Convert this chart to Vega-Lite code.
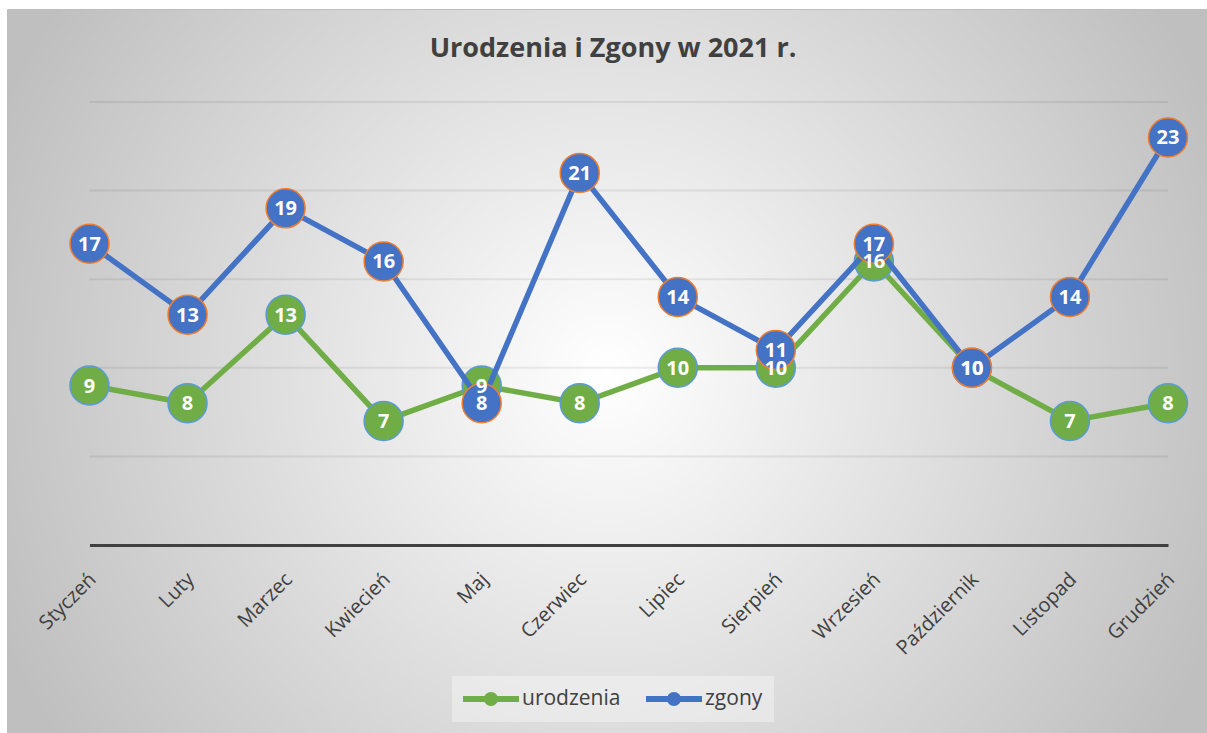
{
  "$schema": "https://vega.github.io/schema/vega-lite/v6.json",
  "width": 1200,
  "height": 724,
  "autosize": {"type": "none"},
  "padding": {"left": 7, "top": 9, "right": 0, "bottom": 0},
  "background": "white",
  "title": {"text": "Urodzenia i Zgony w 2021 r.", "font": "Open Sans", "fontSize": 27, "fontWeight": "bold", "color": "#404040", "anchor": "middle", "offset": -54, "dx": 6},
  "config": {
    "view": {
      "fill": {"gradient": "radial", "x1": 0.5, "y1": 0.5, "r1": 0, "x2": 0.5, "y2": 0.5, "r2": 0.55,
        "stops": [{"offset": 0, "color": "#ffffff"}, {"offset": 1, "color": "#bfbfbf"}]},
      "stroke": "#bdbdbd",
      "strokeWidth": 1
    },
    "legend": {
      "orient": "none", "legendX": 445, "legendY": 667, "direction": "horizontal",
      "fillColor": "rgba(255,255,255,0.35)", "padding": 11, "clipHeight": 24,
      "labelFont": "Open Sans", "labelFontSize": 21, "labelColor": "#404040",
      "symbolType": "M-1,-0.107H1V0.107H-1Z M-0.25,0A0.25,0.25 0 1 1 0.25,0A0.25,0.25 0 1 1 -0.25,0Z",
      "symbolSize": 3136, "symbolStrokeWidth": 0, "symbolOpacity": 1,
      "labelOffset": 3, "columnPadding": 25
    }
  },
  "datasets": {
    "main": [
      {"month": "Styczeń", "series": "urodzenia", "value": 9},
      {"month": "Luty", "series": "urodzenia", "value": 8},
      {"month": "Marzec", "series": "urodzenia", "value": 13},
      {"month": "Kwiecień", "series": "urodzenia", "value": 7},
      {"month": "Maj", "series": "urodzenia", "value": 9},
      {"month": "Czerwiec", "series": "urodzenia", "value": 8},
      {"month": "Lipiec", "series": "urodzenia", "value": 10},
      {"month": "Sierpień", "series": "urodzenia", "value": 10},
      {"month": "Wrzesień", "series": "urodzenia", "value": 16},
      {"month": "Październik", "series": "urodzenia", "value": 10},
      {"month": "Listopad", "series": "urodzenia", "value": 7},
      {"month": "Grudzień", "series": "urodzenia", "value": 8},
      {"month": "Styczeń", "series": "zgony", "value": 17},
      {"month": "Luty", "series": "zgony", "value": 13},
      {"month": "Marzec", "series": "zgony", "value": 19},
      {"month": "Kwiecień", "series": "zgony", "value": 16},
      {"month": "Maj", "series": "zgony", "value": 8},
      {"month": "Czerwiec", "series": "zgony", "value": 21},
      {"month": "Lipiec", "series": "zgony", "value": 14},
      {"month": "Sierpień", "series": "zgony", "value": 11},
      {"month": "Wrzesień", "series": "zgony", "value": 17},
      {"month": "Październik", "series": "zgony", "value": 10},
      {"month": "Listopad", "series": "zgony", "value": 14},
      {"month": "Grudzień", "series": "zgony", "value": 23}
    ],
    "grid": [{"v": 5}, {"v": 10}, {"v": 15}, {"v": 20}, {"v": 25}]
  },
  "data": {"name": "main"},
  "encoding": {
    "x": {
      "field": "month", "type": "ordinal", "sort": null,
      "scale": {"type": "point", "padding": 0, "domain": ["Styczeń", "Luty", "Marzec", "Kwiecień", "Maj", "Czerwiec", "Lipiec", "Sierpień", "Wrzesień", "Październik", "Listopad", "Grudzień"], "range": [82.5, 1161]},
      "axis": {"title": null, "orient": "bottom", "offset": -188, "domainColor": "#404040", "domainWidth": 3, "domainCap": "butt", "ticks": false, "grid": false, "labelAngle": -45, "labelAlign": "right", "labelBaseline": "middle", "labelPadding": 31, "labelOffset": 3, "labelFont": "Open Sans", "labelFontSize": 20, "labelColor": "#404040", "labelOverlap": false}
    },
    "y": {"field": "value", "type": "quantitative", "scale": {"domain": [0, 25], "range": [536, 93]}, "axis": null}
  },
  "layer": [
    {
      "data": {"name": "grid"},
      "mark": {"type": "rule", "color": "#000000", "opacity": 0.07, "strokeWidth": 2},
      "encoding": {
        "x": {"datum": "Styczeń", "type": "ordinal"},
        "x2": {"datum": "Grudzień"},
        "y": {"field": "v", "type": "quantitative"}
      }
    },
    {
      "transform": [{"filter": "datum.series === 'urodzenia'"}],
      "mark": {"type": "line", "color": "#70AD47", "strokeWidth": 5.5}
    },
    {
      "transform": [{"filter": "datum.series === 'urodzenia'"}],
      "mark": {"type": "point", "shape": "circle", "filled": true, "opacity": 1, "size": 1520, "stroke": "#5B9BD5", "strokeWidth": 1.5},
      "encoding": {
        "color": {"field": "series", "type": "nominal", "scale": {"domain": ["urodzenia", "zgony"], "range": ["#70AD47", "#4472C4"]}, "legend": {"title": null}}
      }
    },
    {
      "transform": [{"filter": "datum.series === 'zgony'"}],
      "mark": {"type": "line", "color": "#4472C4", "strokeWidth": 5.5}
    },
    {
      "transform": [{"filter": "datum.series === 'zgony'"}],
      "mark": {"type": "point", "shape": "circle", "filled": true, "opacity": 1, "size": 1520, "stroke": "#ED7D31", "strokeWidth": 1.5},
      "encoding": {
        "color": {"field": "series", "type": "nominal", "scale": {"domain": ["urodzenia", "zgony"], "range": ["#70AD47", "#4472C4"]}, "legend": {"title": null}}
      }
    },
    {
      "mark": {"type": "text", "color": "#ffffff", "font": "Open Sans", "fontSize": 20, "fontWeight": "bold", "baseline": "middle", "align": "center", "dy": 1},
      "encoding": {"text": {"field": "value", "type": "quantitative"}}
    }
  ]
}
